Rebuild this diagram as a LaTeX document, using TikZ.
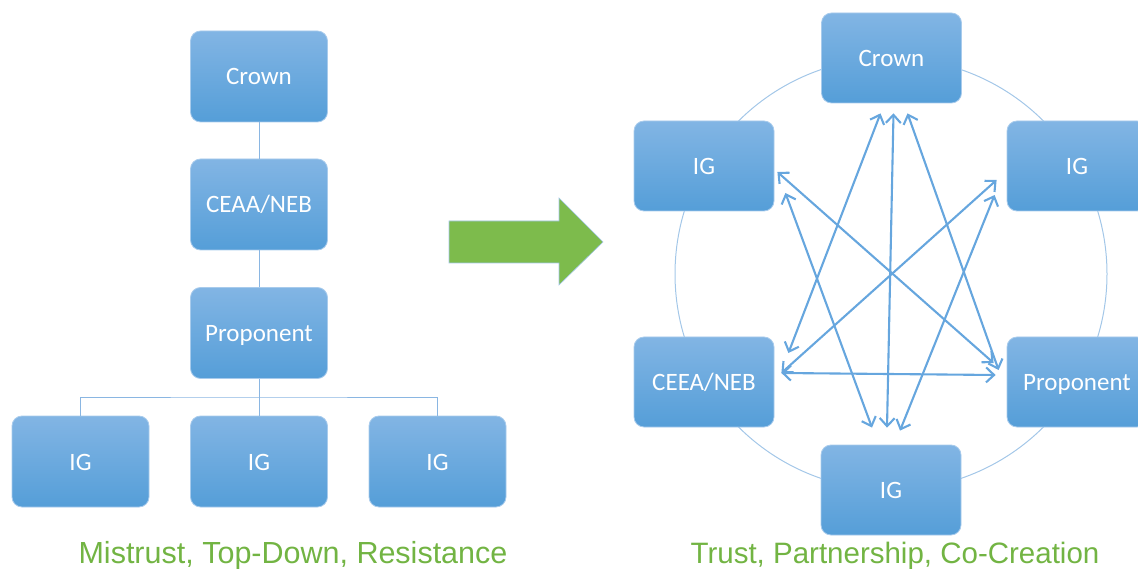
\documentclass[tikz,border=0pt]{standalone}
\usepackage{fontspec}
\setmainfont{Carlito}
\newfontfamily\capfont{Liberation Sans}
\usetikzlibrary{arrows.meta,calc}
\definecolor{boxtop}{HTML}{82B5E4}
\definecolor{boxbot}{HTML}{559ED8}
\definecolor{boxedge}{HTML}{A8CBEC}
\definecolor{linkc}{HTML}{8AB6E2}
\definecolor{arrc}{HTML}{66A6DE}
\definecolor{ringc}{HTML}{A3C7E8}
\definecolor{capgreen}{HTML}{72B443}
\definecolor{bigarrow}{HTML}{7DBB4C}
\begin{document}
\begin{tikzpicture}[x=1pt,y=-1pt,
  blk/.style={rectangle, rounded corners=10pt, minimum width=137pt, minimum height=91pt,
    top color=boxtop, bottom color=boxbot, draw=boxedge, line width=0.8pt,
    text=white, font=\fontsize{25}{28}\selectfont, inner sep=0pt,
    text height=18pt, text depth=1pt},
  blkR/.style={blk, minimum width=140pt, minimum height=90pt},
  link/.style={draw=linkc, line width=1pt},
  ring/.style={circle, draw=ringc, line width=1pt, minimum size=432pt, inner sep=0pt},
  biarrow/.style={draw=arrc, line width=2.1pt,
    {Straight Barb[length=8pt,width=15pt]}-{Straight Barb[length=8pt,width=15pt]}},
  caption/.style={anchor=base, text=capgreen, font=\capfont\fontsize{30.5}{34}\selectfont, inner sep=0pt}]
\useasboundingbox (0,0) rectangle (1138,569);

% ---------- left hierarchy ----------
\node[blk] (crownL) at (259,76.5) {Crown};
\node[blk] (ceaaL) at (259,204.5) {CEAA/NEB};
\node[blk] (propL) at (259,333) {Proponent};
\node[blk] (ig1) at (80.5,461.5) {IG};
\node[blk] (ig2) at (259,461.5) {IG};
\node[blk] (ig3) at (437.5,461.5) {IG};
\coordinate (bus) at (259,397);
\draw[link] (crownL) -- (ceaaL);
\draw[link] (ceaaL) -- (propL);
\draw[link] (propL) -- (ig2);
\draw[link] (ig1.north) |- (bus) -| (ig3.north);

% ---------- big green arrow ----------
\fill[bigarrow, draw=ringc, line width=0.6pt]
  (449,221) -- (559,221) -- (559,198) -- (603,242) -- (559,285) -- (559,263) -- (449,263) -- cycle;

% ---------- right network ----------
\node[ring] (circ) at (891,274) {};
\node[blkR] (crownR) at (891.5,58) {Crown};
\node[blkR] (igL) at (704,166) {IG};
\node[blkR] (igR) at (1077,166) {IG};
\node[blkR] (ceea) at (704,382) {CEEA/NEB};
\node[blkR] (prop) at (1077,382) {Proponent};
\node[blkR] (igB) at (891,490) {IG};

\draw[biarrow] ($(crownR.south)+(-11,10)$) -- ($(ceea.east)+(14,-29)$);
\draw[biarrow] ($(crownR.south)+(2,10)$) -- ($(igB.north)+(-4,-17)$);
\draw[biarrow] ($(crownR.south)+(16,10)$) -- ($(prop.west)+(-8,-12)$);
\draw[biarrow] ($(igL.east)+(3,6)$) -- ($(prop.west)+(-13,-19)$);
\draw[biarrow] ($(igL.east)+(11,27)$) -- ($(igB.north)+(-19,-17)$);
\draw[biarrow] ($(igR.west)+(-10,14)$) -- ($(ceea.east)+(7,-9)$);
\draw[biarrow] ($(igR.west)+(-12,29)$) -- ($(igB.north)+(9,-14)$);
\draw[biarrow] ($(ceea.east)+(7,-9)$) -- ($(prop.west)+(-11,-7)$);

% ---------- captions ----------
\node[caption] (capL) at (293,563) {Mistrust, Top-Down, Resistance};
\node[caption, font=\capfont\fontsize{29.5}{34}\selectfont] (capR) at (895,563) {Trust, Partnership, Co-Creation};
\end{tikzpicture}
\end{document}
